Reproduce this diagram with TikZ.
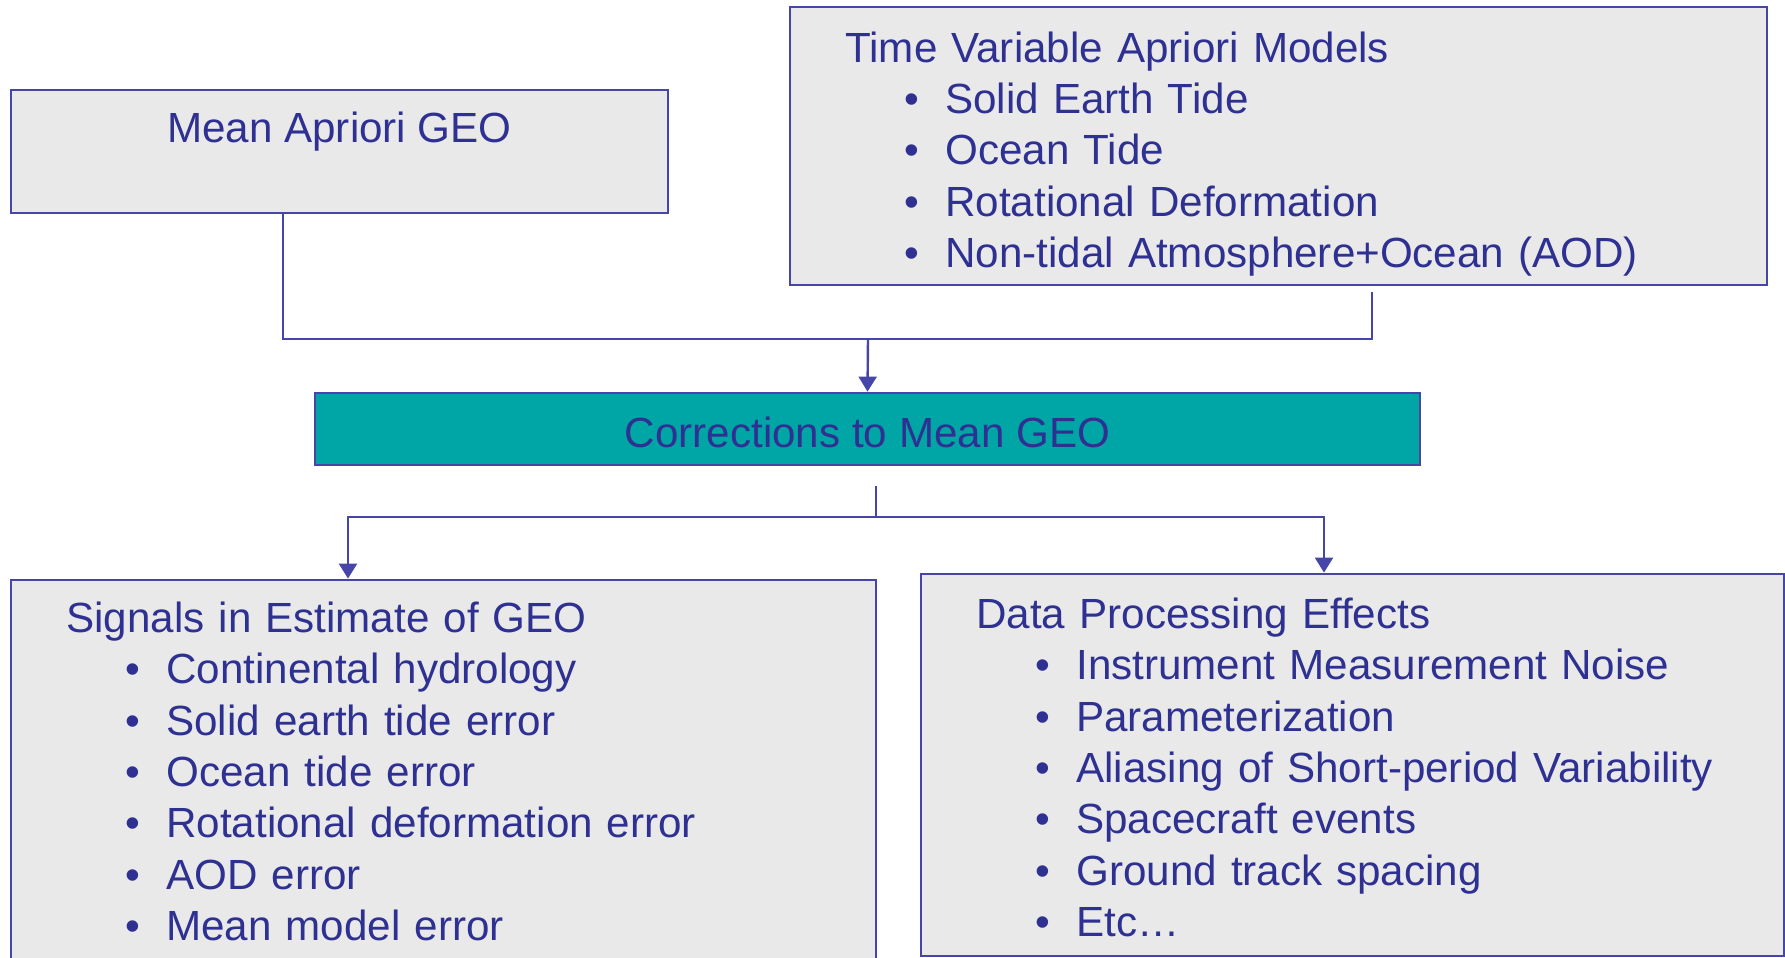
\documentclass[tikz,border=0pt]{standalone}
\usepackage{fontspec}
\setmainfont{Liberation Sans}
\usetikzlibrary{arrows.meta,positioning}
\definecolor{geoblue}{HTML}{4646A8}
\definecolor{geotext}{HTML}{2E3192}
\definecolor{geogray}{HTML}{E9E9E9}
\definecolor{geoteal}{HTML}{00A6A6}
\newcommand{\bitem}[1]{\hspace*{5.96mm}\makebox[4.04mm][l]{\textbullet}#1}
\begin{document}
\begin{tikzpicture}[x=0.1mm,y=-0.1mm,>={Triangle[length=1.5mm,width=1.8mm]},
	box/.style={draw=geoblue,fill=geogray,line width=0.28mm,inner sep=0pt},
	txt/.style={text=geotext,font=\fontsize{12pt}{14.6pt}\selectfont,inner sep=0pt},
	lst/.style={txt,text width=90mm,align=left,anchor=base west},
	conn/.style={draw=geoblue,line width=0.24mm}]
	\useasboundingbox (0,0) rectangle (1785,958);
	\clip (0,0) rectangle (1785,958);
	% boxes
	\node[box,minimum width=65.7mm,minimum height=12.3mm] (meanbox) at (339.5,151.5) {};
	\node[box,minimum width=97.7mm,minimum height=27.8mm] (tvbox) at (1278.5,146) {};
	\node[box,fill=geoteal,minimum width=110.5mm,minimum height=7.2mm] (corrbox) at (867.5,429) {};
	\node[box,minimum width=86.5mm,minimum height=42mm] (sigbox) at (443.5,790) {};
	\node[box,minimum width=86.3mm,minimum height=38.2mm] (dpbox) at (1352.5,765) {};
	% texts
	\node[txt,anchor=base] (meantext) at ([yshift=-5.4mm]meanbox.north) {Mean Apriori GEO};
	\node[txt] (corrtext) at ([yshift=-0.3mm]corrbox.center) {Corrections to Mean GEO};
	\node[lst] (tvtext) at ([xshift=5.6mm,yshift=-5.65mm]tvbox.north west) {Time Variable Apriori Models\\
		\bitem{Solid Earth Tide}\\
		\bitem{Ocean Tide}\\
		\bitem{Rotational Deformation}\\
		\bitem{Non-tidal Atmosphere+Ocean (AOD)}};
	\node[lst] (sigtext) at ([xshift=5.6mm,yshift=-5.4mm]sigbox.north west) {Signals in Estimate of GEO\\
		\bitem{Continental hydrology}\\
		\bitem{Solid earth tide error}\\
		\bitem{Ocean tide error}\\
		\bitem{Rotational deformation error}\\
		\bitem{AOD error}\\
		\bitem{Mean model error}};
	\node[lst] (dptext) at ([xshift=5.6mm,yshift=-5.6mm]dpbox.north west) {Data Processing Effects\\
		\bitem{Instrument Measurement Noise}\\
		\bitem{Parameterization}\\
		\bitem{Aliasing of Short-period Variability}\\
		\bitem{Spacecraft events}\\
		\bitem{Ground track spacing}\\
		\bitem{Etc…}};
	% connectors
	\coordinate (meanleg) at (283,0);
	\coordinate (topjoin) at (868,339);
	\coordinate (tvleg) at (1372,292);
	\coordinate (stub) at (876,486);
	\coordinate (botjoin) at (876,517);
	\coordinate (sigleg) at (348,0);
	\coordinate (dpleg) at (1324,0);
	\draw[conn] (meanbox.south -| meanleg) |- (topjoin) -| (tvleg);
	\draw[conn,->] (topjoin) -- (corrbox.north);
	\draw[conn] (stub) -- (botjoin);
	\draw[conn,->] (botjoin) -| (sigbox.north -| sigleg);
	\draw[conn,->] (botjoin) -| (dpbox.north -| dpleg);
\end{tikzpicture}
\end{document}
